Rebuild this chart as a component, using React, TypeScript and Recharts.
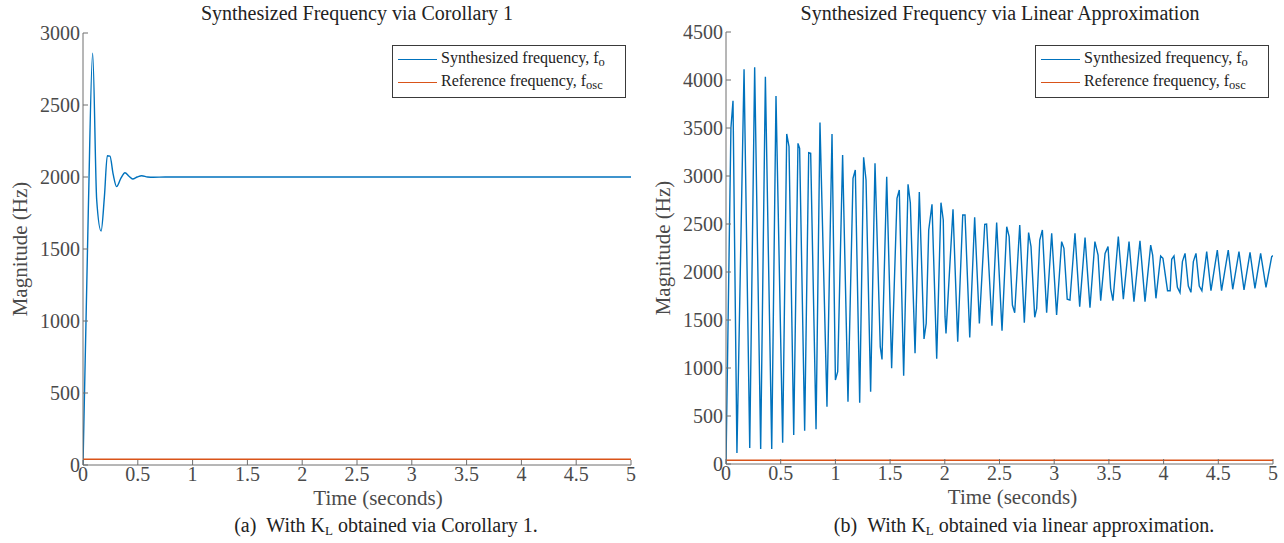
import { Line, LineChart, XAxis, YAxis } from 'recharts';

const FONT = '"Liberation Serif", "Times New Roman", serif';
const AXIS = '#6e6e6e';
const TEXT = '#4a4a4a';
const DARK = '#222222';
const BLUE = '#0072BD';
const ORANGE = '#D95319';

const TIME_TICKS = [0, 0.5, 1, 1.5, 2, 2.5, 3, 3.5, 4, 4.5, 5];
const COROLLARY_TICKS = [0, 500, 1000, 1500, 2000, 2500, 3000];
const LINEAR_TICKS = [0, 500, 1000, 1500, 2000, 2500, 3000, 3500, 4000, 4500];

// (a) synthesized frequency, K_L from Corollary 1
const corollaryTime = [
  0, 0.048, 0.088, 0.125, 0.165, 0.195, 0.222, 0.246, 0.275, 0.307, 0.345, 0.383,
  0.42, 0.453, 0.495, 0.535, 0.59, 0.641, 0.75, 5,
];
const corollaryFreq = [
  0, 1750, 2860, 1840, 1625, 1860, 2148, 2145, 2020, 1933, 1990, 2030,
  2005, 1986, 2000, 2009, 2000, 1998, 2000, 2000,
];

// (b) synthesized frequency, K_L from linear approximation
const linearTime = [
  0, 0.045, 0.064, 0.1, 0.165, 0.217, 0.262, 0.317, 0.36, 0.418, 0.457, 0.518,
  0.555, 0.576, 0.619, 0.658, 0.673, 0.719, 0.756, 0.774, 0.823, 0.859, 0.923, 0.969,
  1.0, 1.021, 1.066, 1.115, 1.161, 1.182, 1.222, 1.258, 1.28, 1.322, 1.362, 1.41,
  1.426, 1.469, 1.514, 1.563, 1.584, 1.624, 1.664, 1.685, 1.728, 1.767, 1.81, 1.83,
  1.853, 1.883, 1.926, 1.965, 1.986, 2.002, 2.011, 2.075, 2.118, 2.164, 2.185, 2.228,
  2.273, 2.316, 2.365, 2.382, 2.431, 2.474, 2.523, 2.566, 2.588, 2.618, 2.639, 2.685,
  2.727, 2.766, 2.788, 2.822, 2.84, 2.868, 2.892, 2.931, 2.977, 3.022, 3.068, 3.089,
  3.119, 3.144, 3.19, 3.233, 3.282, 3.327, 3.372, 3.401, 3.425, 3.465, 3.492, 3.516,
  3.537, 3.586, 3.632, 3.684, 3.729, 3.784, 3.83, 3.882, 3.9, 3.93, 3.973, 3.994,
  4.036, 4.06, 4.074, 4.095, 4.126, 4.15, 4.172, 4.196, 4.226, 4.25, 4.272, 4.296,
  4.326, 4.35, 4.394, 4.433, 4.491, 4.53, 4.591, 4.632, 4.689, 4.735, 4.79, 4.835,
  4.887, 4.936, 4.988, 5.0,
];
const linearFreq = [
  0, 3500, 3784, 115, 4111, 167, 4132, 156, 4035, 156, 3833, 222,
  3438, 3306, 302, 3340, 3288, 347, 3243, 3236, 361, 3556, 597, 3438,
  875, 962, 3219, 649, 2976, 3063, 639, 3194, 2958, 753, 3132, 1222,
  1090, 2993, 997, 2767, 2854, 920, 2913, 2719, 1153, 2833, 1302, 1465,
  2438, 2705, 1097, 2722, 2542, 1535, 1361, 2653, 1274, 2594, 2594, 1319,
  2570, 1465, 2497, 2500, 1441, 2514, 1389, 2472, 2368, 1656, 1576, 2490,
  1472, 2410, 2264, 1528, 1622, 2333, 2438, 1576, 2403, 1552, 2316, 2247,
  1716, 1708, 2403, 1639, 2358, 1628, 2316, 2177, 1701, 2194, 2264, 1830,
  1701, 2368, 1716, 2316, 1690, 2326, 1691, 2281, 2177, 1726, 2167, 2142,
  1805, 1805, 2132, 2167, 1840, 1785, 2108, 2194, 1854, 1788, 2108, 2194,
  1854, 1805, 2212, 1805, 2229, 1805, 2229, 1820, 2212, 1813, 2205, 1830,
  2194, 1840, 2160, 2170,
];

// reference oscillator frequency (constant)
const refTime = [0, 5];
const refFreq = [40, 40];

const corollaryData = corollaryTime.map((t, i) => ({ t, f: corollaryFreq[i] }));
const linearData = linearTime.map((t, i) => ({ t, f: linearFreq[i] }));
const refData = refTime.map((t, i) => ({ t, f: refFreq[i] }));

const tickStyle = { fill: TEXT, fontSize: 20, fontFamily: FONT };

function LegendBox({ left }: { left: number }) {
  const row = (color: string, label: string, sub: string) => (
    <div style={{ display: 'flex', alignItems: 'center', height: 23 }}>
      <div style={{ width: 39, height: 0, borderTop: `1.5px solid ${color}`, marginRight: 4 }} />
      <span>
        {label}
        <sub style={{ fontSize: 12.5, verticalAlign: -3 }}>{sub}</sub>
      </span>
    </div>
  );
  return (
    <div
      style={{
        position: 'absolute',
        left,
        top: 45,
        width: 234,
        height: 53,
        border: '1px solid #3a3a3a',
        background: '#fff',
        boxSizing: 'border-box',
        padding: '2px 0 0 5px',
        fontFamily: FONT,
        fontSize: 16,
        color: DARK,
        lineHeight: '18px',
        whiteSpace: 'nowrap',
      }}
    >
      {row(BLUE, 'Synthesized frequency, f', 'o')}
      {row(ORANGE, 'Reference frequency, f', 'osc')}
    </div>
  );
}

interface PanelProps {
  left: number;
  marginTop: number;
  marginLeft: number;
  yMax: number;
  yTicks: number[];
  data: { t: number; f: number }[];
  smooth: boolean;
  title: string;
  titleCenter: number;
  xLabelShift: number;
  legendLeft: number;
}

function Panel(p: PanelProps) {
  return (
    <div style={{ position: 'absolute', left: p.left, top: 0, width: 640, height: 543 }}>
      <div
        style={{
          position: 'absolute',
          left: p.titleCenter - 300,
          width: 600,
          top: 2,
          textAlign: 'center',
          fontFamily: FONT,
          fontSize: 20,
          color: DARK,
        }}
      >
        {p.title}
      </div>
      <LineChart
        width={640}
        height={510}
        margin={{ top: p.marginTop, right: 9, left: p.marginLeft, bottom: 38 - p.marginTop }}
        style={{ position: 'absolute', left: 0, top: 0 }}
      >
        <XAxis
          dataKey="t"
          type="number"
          domain={[0, 5]}
          ticks={TIME_TICKS}
          interval={0}
          allowDataOverflow
          height={40}
          tickSize={-5}
          tickMargin={7}
          stroke={AXIS}
          tick={tickStyle}
          label={{
            value: 'Time (seconds)',
            position: 'insideBottom',
            offset: 0,
            dx: p.xLabelShift,
            fill: TEXT,
            fontSize: 21,
            fontFamily: FONT,
          }}
        />
        <XAxis
          xAxisId="top"
          orientation="top"
          type="number"
          domain={[0, 5]}
          ticks={TIME_TICKS}
          interval={0}
          allowDataOverflow
          height={0}
          tickSize={-5}
          tick={false}
          stroke={AXIS}
        />
        <YAxis
          type="number"
          domain={[0, p.yMax]}
          ticks={p.yTicks}
          interval={0}
          allowDataOverflow
          width={60}
          tickSize={-5}
          tickMargin={8}
          stroke={AXIS}
          tick={tickStyle}
          label={{
            value: 'Magnitude (Hz)',
            position: 'center',
            angle: -90,
            dx: -33,
            fill: TEXT,
            fontSize: 21,
            fontFamily: FONT,
          }}
        />
        <YAxis
          yAxisId="right"
          orientation="right"
          type="number"
          domain={[0, p.yMax]}
          ticks={p.yTicks}
          interval={0}
          allowDataOverflow
          width={0}
          tickSize={-5}
          tick={false}
          stroke={AXIS}
        />
        <Line
          data={p.data}
          dataKey="f"
          type={p.smooth ? 'monotone' : 'linear'}
          stroke={BLUE}
          strokeWidth={1.4}
          dot={false}
          isAnimationActive={false}
        />
        <Line
          data={refData}
          dataKey="f"
          type="linear"
          stroke={ORANGE}
          strokeWidth={1.5}
          dot={false}
          isAnimationActive={false}
        />
      </LineChart>
      <LegendBox left={p.legendLeft} />
    </div>
  );
}

export default function App() {
  return (
    <div
      style={{
        position: 'absolute',
        left: 0,
        top: 0,
        width: 1284,
        height: 543,
        background: '#fff',
        overflow: 'hidden',
      }}
    >
      <Panel
        left={0}
        marginTop={33}
        marginLeft={23}
        yMax={3000}
        yTicks={COROLLARY_TICKS}
        data={corollaryData}
        smooth
        title="Synthesized Frequency via Corollary 1"
        titleCenter={357}
        xLabelShift={21}
        legendLeft={392}
      />
      <Panel
        left={642}
        marginTop={32}
        marginLeft={24}
        yMax={4500}
        yTicks={LINEAR_TICKS}
        data={linearData}
        smooth={false}
        title="Synthesized Frequency via Linear Approximation"
        titleCenter={358}
        xLabelShift={13}
        legendLeft={393}
      />
      <div
        style={{
          position: 'absolute',
          left: 86,
          width: 600,
          top: 514,
          textAlign: 'center',
          fontFamily: FONT,
          fontSize: 20,
          color: DARK,
        }}
      >
        (a)&nbsp;&nbsp;With K<sub style={{ fontSize: 13, verticalAlign: -3 }}>L</sub> obtained via Corollary 1.
      </div>
      <div
        style={{
          position: 'absolute',
          left: 724,
          width: 600,
          top: 514,
          textAlign: 'center',
          fontFamily: FONT,
          fontSize: 20,
          color: DARK,
        }}
      >
        (b)&nbsp;&nbsp;With K<sub style={{ fontSize: 13, verticalAlign: -3 }}>L</sub> obtained via linear approximation.
      </div>
    </div>
  );
}
